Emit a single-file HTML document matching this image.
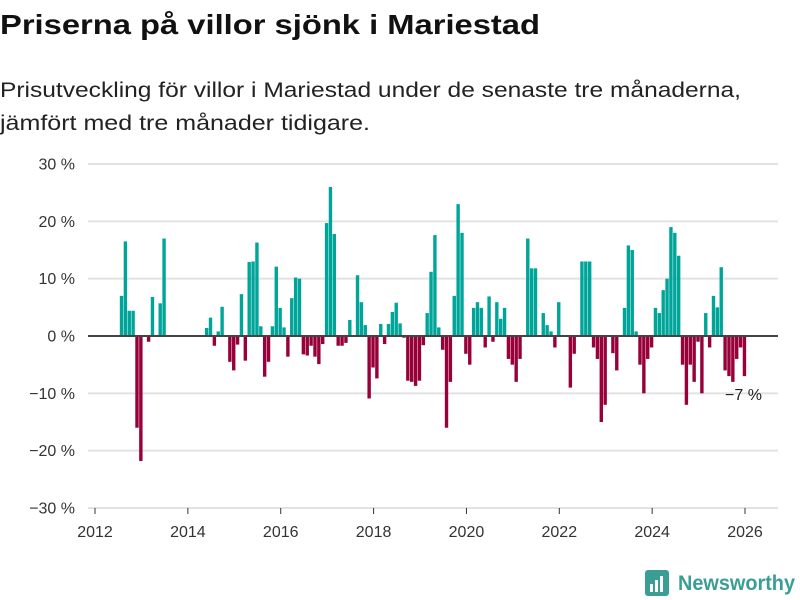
<!DOCTYPE html>
<html><head><meta charset="utf-8"><style>
html,body{margin:0;padding:0;background:#fff;}
svg{display:block;font-family:"Liberation Sans",sans-serif;}
</style></head><body>
<svg width="800" height="600" viewBox="0 0 800 600">
<text x="0" y="34" font-size="28" font-weight="bold" fill="#111" textLength="540" lengthAdjust="spacingAndGlyphs">Priserna på villor sjönk i Mariestad</text>
<text x="0" y="97" font-size="21" fill="#222" textLength="741" lengthAdjust="spacingAndGlyphs">Prisutveckling för villor i Mariestad under de senaste tre månaderna,</text>
<text x="0" y="130" font-size="21" fill="#222" textLength="370" lengthAdjust="spacingAndGlyphs">jämfört med tre månader tidigare.</text>
<g id="grid"></g>
<g id="bars"></g>
<g id="zero"></g>
<g id="xaxis"></g>
<text x="725" y="400" font-size="16" fill="#222">−7 %</text>
<g>
<rect x="645" y="570" width="24" height="26" rx="3" fill="#3a9e95"/>
<rect x="650" y="584" width="3" height="8" fill="#fff"/><rect x="655" y="580" width="3" height="12" fill="#fff"/><rect x="660" y="576" width="3" height="16" fill="#fff"/>
<text x="678" y="590" font-size="21" font-weight="bold" fill="#3a9e95" textLength="117" lengthAdjust="spacingAndGlyphs">Newsworthy</text>
</g>
</svg>
<script>
const startYear = 2012;
const startMonth = 6; // July 2012 (0-based month)
const values = [7,16.5,4.4,4.4,-16,-21.8,null,-1,6.8,null,5.7,17,
null,null,null,null,null,null,null,null,null,null,
1.4,3.2,-1.7,0.8,5.1,null,-4.5,-6,-1.5,7.3,-4.3,12.9,13,16.3,1.7,-7.1,-4.5,1.7,12.1,4.9,1.5,-3.6,6.6,10.2,10,-3.2,-3.4,-1.7,-3.6,-4.9,-1.4,19.7,26,17.8,-1.7,-1.7,-1.2,2.8,null,10.6,5.9,1.9,-10.9,-5.5,-7.4,2.1,-1.4,2.1,4.2,5.8,2.2,-0.3,-7.8,-8,-8.7,-7.8,-1.6,4,11.2,17.6,1.5,-2.4,-16,-8,7,23,18,-3.1,-5,4.9,5.9,4.9,-2,6.9,-1,5.9,3,4.9,-4,-5,-8,-4,null,17,11.8,11.8,null,4,1.9,0.8,-2,5.9,null,null,-9,-3.1,null,13,13,13,-2,-4,-15,-12,null,-3,-6,null,4.9,15.8,15,0.8,-5,-10,-4,-2,4.9,4,8,10,19,18,14,-5,-12,-5,-8,-1,-10,4,-2,7,5,12,-6,-7,-8,-4,-2,-7];
const yTicks = [30,20,10,0,-10,-20,-30];
const xTicks = [2012,2014,2016,2018,2020,2022,2024,2026];
const NS='http://www.w3.org/2000/svg';
const y = v => 336 - v*5.733;
const xYear = t => 95 + (t-2012)*46.43;
const mk = (tag, attrs, parent) => { const e=document.createElementNS(NS,tag); for(const k in attrs) e.setAttribute(k,attrs[k]); parent.appendChild(e); return e; };
const grid=document.getElementById('grid');
yTicks.forEach(t=>{
  if(t!==0){ const l=mk('line',{x1:88,x2:778,y1:y(t),y2:y(t),stroke:'#e2e2e2','stroke-width':2},grid);
    
     }
  const tx=mk('text',{x:75,y:y(t)+5.5,'text-anchor':'end','font-size':16,fill:'#333'},grid);
  tx.textContent=(t<0?'−'+Math.abs(t):t)+' %';
  
  
});
const bars=document.getElementById('bars');
values.forEach((v,i)=>{
  if(v===null) return;
  const t = startYear + (startMonth+i)/12;
  const x = xYear(t)+1.6;
  const r=mk('rect',{x:x,width:3.4,y:Math.min(y(v),y(0)),height:Math.abs(y(v)-y(0)),fill:v>=0?'#00a59a':'#98003a'},bars);
  
  
});
const z=mk('line',{x1:88,x2:778,y1:y(0),y2:y(0),stroke:'#444','stroke-width':2},document.getElementById('zero'));


const xa=document.getElementById('xaxis');
xTicks.forEach(t=>{
  const l=mk('line',{x1:xYear(t),x2:xYear(t),y1:508,y2:514,stroke:'#333','stroke-width':1},xa);
  
  
  const tx=mk('text',{x:xYear(t),y:537,'text-anchor':'middle','font-size':16,fill:'#333'},xa);
  tx.textContent=t;
  
  
});
</script>
</body></html>
